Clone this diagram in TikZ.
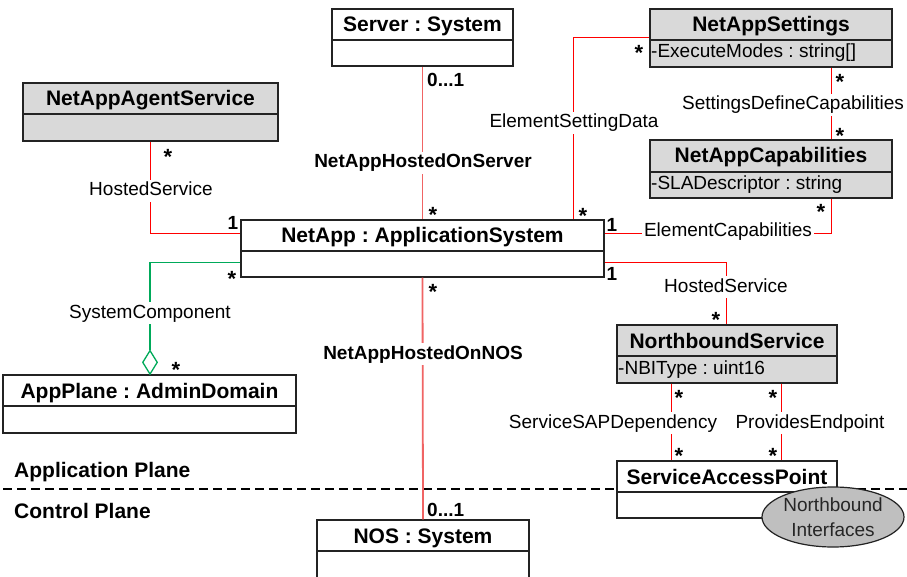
\documentclass[tikz,border=0pt]{standalone}
\usepackage{fontspec}
\setmainfont{Liberation Sans}
\frenchspacing
\usetikzlibrary{fit,shapes.geometric}
\definecolor{boxline}{RGB}{35,35,35}
\definecolor{clsgray}{RGB}{217,217,217}
\definecolor{ellgray}{RGB}{191,191,191}
\definecolor{assocred}{RGB}{255,0,0}
\definecolor{hostred}{RGB}{240,100,100}
\definecolor{compgreen}{RGB}{0,170,90}
\newcommand\mystar{\raisebox{-12.7pt}[0pt][0pt]{*}}
\tikzset{
  box/.style={draw=boxline, line width=1.4pt, inner sep=0pt},
  ttl/.style={font=\fontsize{21}{25}\selectfont\bfseries, anchor=base, inner sep=0pt},
  attr/.style={font=\fontsize{19}{23}\selectfont, anchor=base west, inner sep=0pt},
  lbl/.style={font=\fontsize{19}{23}\selectfont, anchor=base, fill=white, inner sep=2pt, text height=14pt, text depth=4pt},
  blbl/.style={lbl, font=\fontsize{19}{23}\selectfont\bfseries},
  mult/.style={font=\fontsize{19}{23}\selectfont\bfseries, anchor=base, inner sep=0pt},
  star/.style={font=\fontsize{22}{26}\selectfont\bfseries, anchor=center, inner sep=0pt},
  plane/.style={font=\fontsize{21}{25}\selectfont\bfseries, anchor=base west, inner sep=0pt},
  assoc/.style={draw=assocred, line width=1.5pt},
  hosted/.style={draw=hostred, line width=1.8pt},
  comp/.style={draw=compgreen, line width=1.5pt},
}
% #1 name, #2 x1, #3 y1, #4 x2, #5 ydiv, #6 y2, #7 fill, #8 title, #9 attribute
\newcommand\umlcls[9]{%
  \node[box, fill=#7, fit={(#2,#3) (#4,#6)}] (#1) {};
  \draw[box] (#2,#5) -- (#4,#5);
  \node[ttl] (#1-t) at ({(#2+#4)/2},{#3+23}) {#8};
  \node[attr] (#1-a) at ({#2+1},{#5+18}) {#9};
}
\begin{document}
\begin{tikzpicture}[x=1pt,y=-1pt]
\useasboundingbox (0,0) rectangle (907,577);
\fill[white] (0,0) rectangle (907,577);

% plane separator
\draw[dash pattern=on 9pt off 5pt, line width=2.2pt, black] (3,489) -- (907,489);
\node[plane] (appplane-lbl) at (14,477) {Application Plane};
\node[plane] (ctrlplane-lbl) at (14,518) {Control Plane};

% classes
\umlcls{server}{332}{9}{513}{40}{66}{white}{Server : System}{}
\umlcls{agent}{23}{83}{278}{114}{141}{clsgray}{NetAppAgentService}{}
\umlcls{netapp}{241}{220}{604}{251}{277}{white}{NetApp : ApplicationSystem}{}
\umlcls{app}{3}{375}{296}{406}{433}{white}{AppPlane : AdminDomain}{}
\umlcls{nos}{317}{520}{529}{551}{590}{white}{NOS : System}{}
\umlcls{settings}{650}{9}{892}{40}{67}{clsgray}{NetAppSettings}{-ExecuteModes : string[]}
\umlcls{caps}{650}{140}{892}{172}{198}{clsgray}{NetAppCapabilities}{-SLADescriptor : string}
\umlcls{nbs}{617}{325}{837}{356}{383}{clsgray}{NorthboundService}{-NBIType : uint16}
\umlcls{sap}{617}{461}{837}{492}{518}{white}{ServiceAccessPoint}{}

% aggregation diamond
\node[diamond, draw=compgreen, line width=1.3pt, fill=white, minimum width=15pt, minimum height=24pt, inner sep=0pt, anchor=south] (dia) at (150,375) {};

% connectors
\draw[assoc] ([xshift=128pt]agent.south west) |- ([yshift=-14pt]netapp.north west);
\draw[comp] ([yshift=-43pt]netapp.north west) -| (dia.north);
\draw[hosted] (server.south) -- (netapp.north);
\draw[hosted] (netapp.south) -- (nos.north);
\draw[assoc] ([yshift=-29pt]settings.north west) -| ([xshift=333pt]netapp.north west);
\draw[assoc] ([xshift=182pt]settings.south west) -- ([xshift=182pt]caps.north west);
\draw[assoc] ([xshift=182pt]caps.south west) |- ([yshift=-14pt]netapp.north east);
\draw[assoc] ([yshift=-43pt]netapp.north east) -| ([xshift=110pt]nbs.north west);
\draw[assoc] ([xshift=55pt]nbs.south west) -- ([xshift=55pt]sap.north west);
\draw[assoc] ([xshift=165pt]nbs.south west) -- ([xshift=165pt]sap.north west);

% association labels
\node[lbl] (l-hs1) at (151,196) {HostedService};
\node[lbl] (l-sc) at (150,318) {SystemComponent};
\node[blbl] (l-hos) at (423,168) {NetAppHostedOnServer};
\node[blbl] (l-hon) at (423,359) {NetAppHostedOnNOS};
\node[lbl] (l-esd) at (574,128) {ElementSettingData};
\node[lbl] (l-sdc) at (793,110) {SettingsDefineCapabilities};
\node[lbl] (l-ec) at (728,237) {ElementCapabilities};
\node[lbl] (l-hs2) at (726,292) {HostedService};
\node[lbl] (l-ssd) at (613,428) {ServiceSAPDependency};
\node[lbl] (l-pe) at (810,428) {ProvidesEndpoint};

% multiplicities
\node[star] (m1) at (168,152) {\mystar};
\node[mult] (m2) at (233,230) {1};
\node[star] (m3) at (232,274) {\mystar};
\node[mult, anchor=base west] (m4) at (427,87) {0...1};
\node[star] (m5) at (433,210) {\mystar};
\node[star] (m6) at (433,287) {\mystar};
\node[mult, anchor=base west] (m7) at (427,516) {0...1};
\node[star] (m8) at (639,48) {\mystar};
\node[star] (m9) at (840,77) {\mystar};
\node[star] (m10) at (840,131) {\mystar};
\node[star] (m11) at (583,211) {\mystar};
\node[star] (m12) at (821,207) {\mystar};
\node[mult] (m13) at (612,232) {1};
\node[mult] (m14) at (612,280) {1};
\node[star] (m15) at (716,315) {\mystar};
\node[star] (m16) at (679,393) {\mystar};
\node[star] (m17) at (773,393) {\mystar};
\node[star] (m18) at (679,451) {\mystar};
\node[star] (m19) at (773,451) {\mystar};
\node[star] (m20) at (176,365) {\mystar};

% northbound interfaces ellipse
\node[ellipse, draw=boxline, line width=1.2pt, fill=ellgray, minimum width=142pt, minimum height=60pt, inner sep=0pt, align=center, font=\fontsize{19}{25}\selectfont, text=black!85] (nbi) at (833,517) {Northbound\\Interfaces};
\end{tikzpicture}
\end{document}
